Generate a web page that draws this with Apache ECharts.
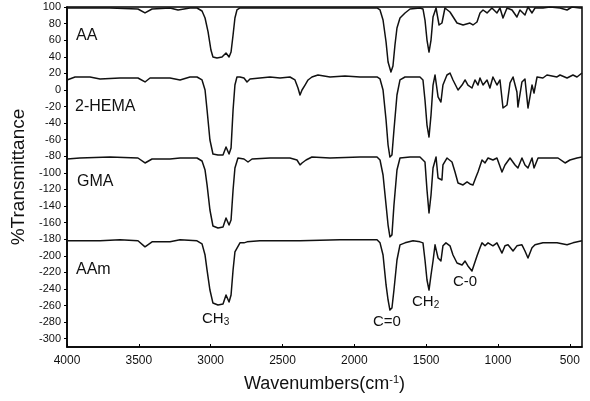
<!DOCTYPE html>
<html>
<head>
<meta charset="utf-8">
<script src="https://cdn.jsdelivr.net/npm/echarts@6/dist/echarts.min.js"></script>
<style>
    html, body { margin: 0; padding: 0; background: #fff; }
    #chart { width: 590px; height: 401px; }
</style>
</head>
<body>
<div id="chart"></div>
<script>
// tick values
var xTicks = [4000, 3500, 3000, 2500, 2000, 1500, 1000, 500];
var yTicks = [100, 80, 60, 40, 20, 0, -20, -40, -60, -80, -100, -120, -140, -160, -180,
    -200, -220, -240, -260, -280, -300];

// spectra: [wavenumber, %T], each trace already offset
var aaSpectrum = [
    [4000, 98.8], [3701, 98.8], [3506, 97.6], [3457, 92.8], [3408, 97.6], [3283, 98.8], [3227, 96.4],
    [3144, 98.8], [3095, 98.8], [3060, 95.2], [3039, 86.7], [3018, 69.9], [2998, 48.1], [2984, 39.7],
    [2956, 38.5], [2921, 39.7], [2893, 44.5], [2872, 39.7], [2858, 45.7], [2844, 66.2], [2831, 86.7],
    [2817, 96.4], [2796, 98.8], [2726, 98.8], [2378, 98.8], [2030, 98.8], [1842, 98.8], [1821, 96.4],
    [1800, 84.3], [1779, 57.8], [1765, 33.7], [1745, 21.6], [1731, 28.9], [1717, 54.2], [1703, 74.7],
    [1682, 86.7], [1647, 92.8], [1612, 97.6], [1543, 98.8], [1522, 97.6], [1508, 84.3], [1494, 60.2],
    [1480, 45.7], [1466, 60.2], [1452, 87.9], [1431, 98.8], [1410, 78.3], [1390, 80.7], [1369, 98.8],
    [1334, 94], [1285, 80.7], [1243, 78.3], [1195, 80.7], [1174, 78.3], [1146, 81.9], [1125, 92.8],
    [1104, 96.4], [1076, 92.8], [1042, 98.8], [1007, 92.8], [986, 98.8], [965, 86.7], [937, 98.8],
    [902, 96.4], [868, 87.9], [847, 96.4], [812, 90.4], [791, 100], [763, 92.8], [742, 98.8],
    [687, 98.8], [638, 100], [568, 98.8], [519, 96.4], [485, 100], [429, 98.8], [415, 98.8]
];
var hemaSpectrum = [
    [4000, 12], [3944, 15.6], [3840, 15.6], [3770, 13.2], [3631, 14.4], [3506, 14.4], [3457, 9.6],
    [3422, 14.4], [3283, 14.4], [3213, 12], [3144, 15.6], [3095, 15.6], [3060, 12], [3039, -0.1],
    [3025, -24.2], [3005, -60.4], [2984, -77.3], [2949, -78.5], [2914, -78.5], [2893, -68.8],
    [2872, -77.3], [2858, -70], [2844, -24.2], [2831, 5.9], [2817, 15.6], [2796, 15.6], [2768, 14.4],
    [2747, 9.6], [2726, 13.2], [2657, 14.4], [2587, 15.6], [2517, 14.4], [2448, 15.6], [2413, 12],
    [2392, 2.3], [2378, -6.1], [2364, -0.1], [2357, -2.5], [2343, 5.9], [2322, 12], [2295, 15.6],
    [2253, 18], [2169, 15.6], [2065, 16.8], [1960, 15.6], [1842, 15.6], [1821, 13.2], [1800, -0.1],
    [1779, -36.3], [1765, -66.4], [1752, -80.9], [1738, -78.5], [1724, -48.3], [1703, -6.1],
    [1682, 12], [1647, 15.6], [1543, 15.6], [1522, 12], [1508, -12.1], [1494, -42.3], [1480, -56.8],
    [1466, -30.2], [1452, 5.9], [1438, 18], [1417, -8.5], [1397, -14.6], [1383, 5.9], [1355, 18],
    [1334, 20.4], [1313, 12], [1278, -0.1], [1250, 5.9], [1229, 12], [1209, 5.9], [1181, 2.3],
    [1160, 12], [1139, 5.9], [1125, 14.4], [1104, 5.9], [1076, 12], [1056, 2.3], [1035, 15.6],
    [1007, 5.9], [986, 12], [965, -21.8], [937, -18.2], [916, 8.4], [895, 15.6], [868, -2.5],
    [861, -20.6], [833, 9.6], [812, 13.2], [791, -21.8], [763, 5.9], [749, -3.7], [728, 15.6],
    [687, 14.4], [659, 18], [589, 15.6], [568, 18], [519, 14.4], [478, 18], [450, 15.6], [415, 20.4]
];
var gmaSpectrum = [
    [4000, -83.3], [3910, -82.1], [3701, -80.9], [3506, -82.1], [3457, -88.1], [3408, -83.3],
    [3283, -83.3], [3213, -82.1], [3095, -82.1], [3060, -85.7], [3039, -96.6], [3025, -114.6],
    [3005, -144.8], [2984, -164.1], [2949, -166.5], [2914, -165.2], [2893, -154.5], [2872, -162.9],
    [2858, -156.9], [2844, -120.7], [2831, -94.1], [2810, -82.1], [2768, -83.3], [2740, -86.9],
    [2712, -83.3], [2587, -82.1], [2448, -82.1], [2399, -84.5], [2378, -90.5], [2364, -88.1],
    [2357, -90.5], [2336, -84.5], [2295, -80.9], [2169, -82.1], [1960, -80.9], [1842, -80.9],
    [1821, -84.5], [1800, -102.6], [1779, -138.8], [1765, -162.9], [1752, -177.2], [1738, -174.8],
    [1724, -138.8], [1703, -96.6], [1682, -82.1], [1612, -80.9], [1543, -80.9], [1508, -86.9],
    [1494, -120.7], [1480, -148.4], [1466, -126.7], [1452, -94.1], [1431, -80.9], [1417, -106.2],
    [1390, -108.6], [1383, -90.5], [1355, -82.1], [1320, -86.9], [1299, -99], [1278, -112.2],
    [1243, -114.6], [1215, -111], [1195, -113.4], [1174, -114.6], [1153, -105], [1139, -99],
    [1111, -84.5], [1090, -88.1], [1069, -82.1], [1035, -84.5], [1007, -82.1], [972, -99],
    [951, -90.5], [916, -82.1], [881, -90.5], [861, -94.1], [833, -82.1], [812, -90.5], [791, -94.1],
    [763, -82.1], [749, -94.1], [721, -82.1], [638, -82.1], [582, -82.1], [533, -88.1], [499, -84.5],
    [450, -82.1], [415, -80.9]
];
var aamSpectrum = [
    [4000, -181.9], [3770, -181.9], [3631, -180.7], [3506, -181.9], [3457, -189.2], [3408, -183.2],
    [3283, -183.2], [3213, -180.7], [3095, -181.9], [3060, -185.6], [3039, -199.1], [3025, -217.2],
    [3005, -241.3], [2984, -257], [2949, -259.4], [2914, -258.2], [2893, -247.3], [2872, -255.7],
    [2858, -247.3], [2844, -217.2], [2831, -195.4], [2796, -184.4], [2768, -184.4], [2747, -183.2],
    [2657, -181.9], [2378, -181.9], [2100, -180.7], [1842, -180.7], [1821, -184.4], [1800, -199.1],
    [1779, -235.2], [1765, -253.3], [1752, -265.4], [1738, -263], [1724, -241.3], [1703, -205.1],
    [1682, -186.8], [1647, -184.4], [1591, -181.9], [1543, -183.2], [1522, -184.4], [1508, -205.1],
    [1494, -229.2], [1480, -241.3], [1466, -223.2], [1452, -206.3], [1438, -186.8], [1417, -202.7],
    [1397, -206.3], [1383, -188], [1362, -184.4], [1334, -188], [1313, -199.1], [1285, -208.7],
    [1250, -211.1], [1229, -206.3], [1209, -212.3], [1181, -218.4], [1167, -211.1], [1146, -200.3],
    [1125, -190.4], [1111, -184.4], [1090, -188], [1069, -184.4], [1035, -188], [1007, -184.4],
    [972, -196.7], [951, -188], [930, -186.8], [895, -194.2], [868, -188], [833, -186.8],
    [812, -194.2], [791, -202.7], [763, -190.4], [742, -186.8], [687, -184.4], [589, -184.4],
    [519, -186.8], [478, -184.4], [415, -181.9]
];

var seriesNames = ['AA', '2-HEMA', 'GMA', 'AAm'];
var seriesData = [aaSpectrum, hemaSpectrum, gmaSpectrum, aamSpectrum];

var tickFont = '"Liberation Sans Narrow", "Liberation Sans", Arial, sans-serif';
var textFont = '"Liberation Sans", Arial, sans-serif';

var myChart = echarts.init(document.getElementById('chart'), null, {renderer: 'canvas'});

var series = [];
for (var i = 0; i < seriesData.length; i++) {
    series.push({
        name: seriesNames[i],
        type: 'line',
        data: seriesData[i],
        showSymbol: false,
        smooth: false,
        lineStyle: {color: '#111', width: 1.5, join: 'round'},
        animation: false
    });
}

// text labels on the plot (sample names and band assignments)
function label(left, top, text, size) {
    return {
        type: 'text',
        left: left,
        top: top,
        style: {
            text: text,
            font: size + 'px ' + textFont,
            fill: '#111',
            rich: {
                sub: {fontSize: 10, fontFamily: textFont, fill: '#111', padding: [7, 0, 0, 0]}
            }
        }
    };
}

var option = {
    backgroundColor: '#fff',
    animation: false,
    grid: {
        left: 67, right: 8, top: 7, bottom: 54,
        show: true, borderColor: '#000', borderWidth: 1.5
    },
    xAxis: {
        type: 'value',
        inverse: true,
        min: 415,
        max: 4000,
        name: 'Wavenumbers(cm{sup|-1})',
        nameLocation: 'middle',
        nameGap: 27,
        nameTextStyle: {
            fontFamily: textFont, fontSize: 18, color: '#111',
            rich: {sup: {fontSize: 11, fontFamily: textFont, color: '#111', padding: [0, 0, 9, 0]}}
        },
        axisLine: {onZero: false, lineStyle: {color: '#000', width: 1.5}},
        axisTick: {customValues: xTicks, inside: true, length: 3, lineStyle: {color: '#000'}},
        axisLabel: {
            customValues: xTicks, margin: 8, fontFamily: tickFont, fontSize: 12, color: '#111',
            formatter: function (v) { return String(v); }
        },
        splitLine: {show: false}
    },
    yAxis: {
        type: 'value',
        min: -310,
        max: 100,
        name: '%Transmittance',
        nameLocation: 'middle',
        nameRotate: 90,
        nameGap: 29,
        nameTextStyle: {fontFamily: textFont, fontSize: 19, color: '#111'},
        axisLine: {onZero: false, lineStyle: {color: '#000', width: 1.5}},
        axisTick: {customValues: yTicks, length: 3, lineStyle: {color: '#000'}},
        axisLabel: {
            customValues: yTicks, margin: 6, fontFamily: tickFont, fontSize: 11, color: '#111',
            formatter: function (v) { return String(v); }
        },
        splitLine: {show: false}
    },
    graphic: [
        label(76, 28, 'AA', 16),
        label(75, 99, '2-HEMA', 16),
        label(77, 174, 'GMA', 16),
        label(76, 262, 'AAm', 16),
        label(202, 311, 'CH{sub|3}', 15),
        label(373, 314, 'C=0', 15),
        label(412, 294, 'CH{sub|2}', 15),
        label(453, 274, 'C-0', 15)
    ],
    series: series
};

myChart.setOption(option);
</script>
</body>
</html>
